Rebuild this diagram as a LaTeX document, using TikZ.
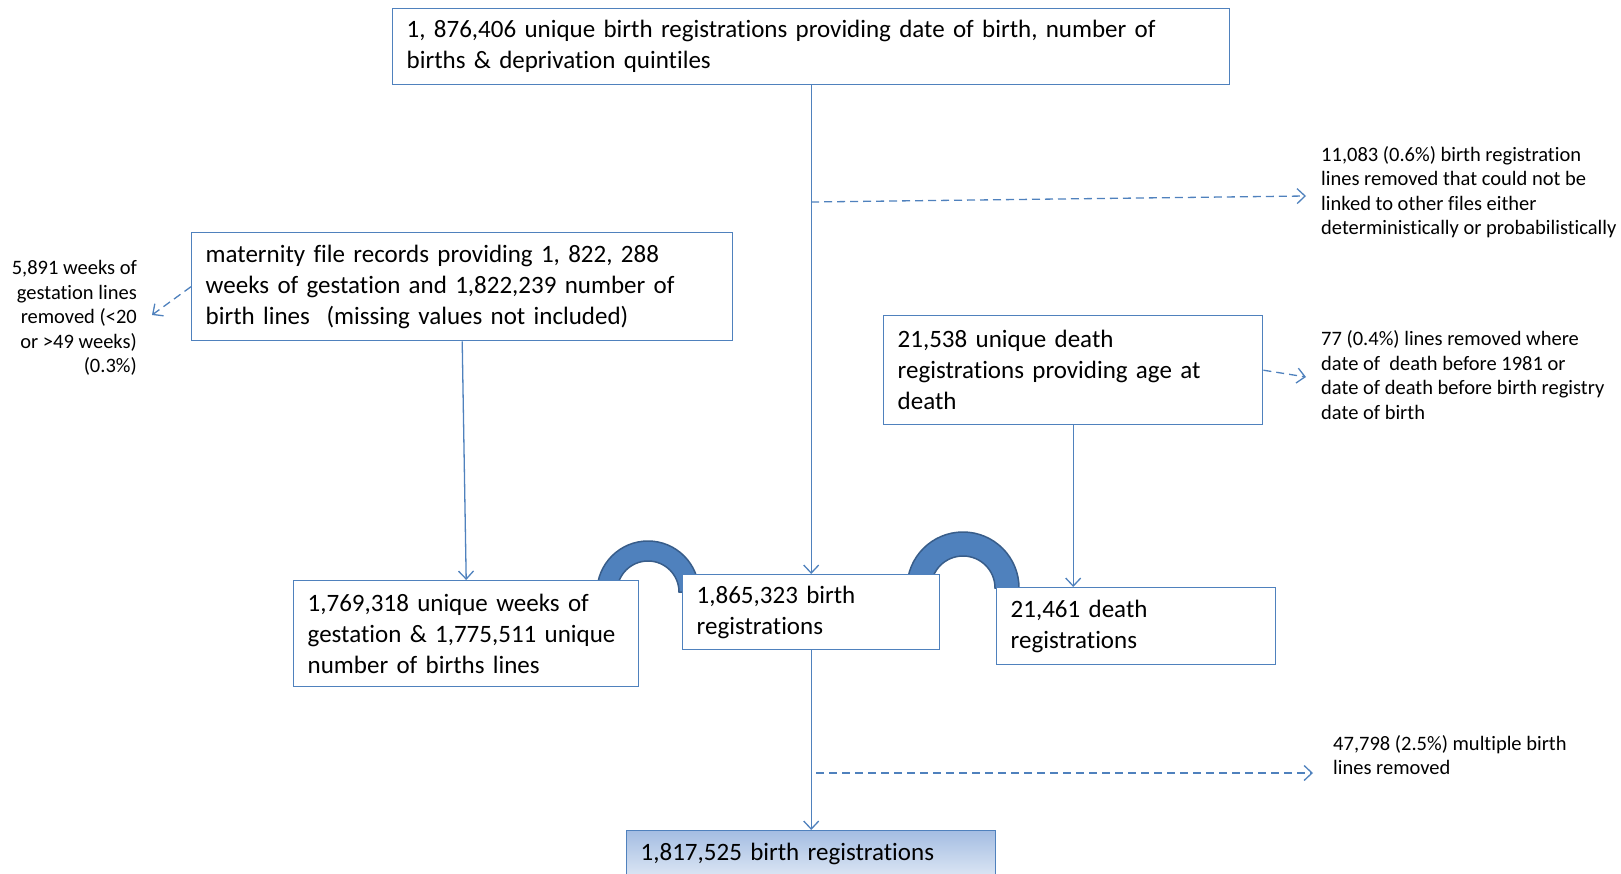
\documentclass[tikz,border=0pt]{standalone}
\usepackage{fontspec}
\setmainfont{Carlito}[Ligatures=CommonOff]
\usetikzlibrary{arrows.meta}
\definecolor{obl}{HTML}{4F81BD}
\definecolor{odk}{HTML}{385D8A}
\definecolor{gtop}{HTML}{A4BDE2}
\definecolor{gbot}{HTML}{DCE6F4}
\begin{document}
\begin{tikzpicture}[x=1pt,y=-1pt,
  box/.style={draw=obl, line width=1.4pt, fill=white, anchor=north west,
    inner xsep=14pt, inner ysep=0pt, align=left,
    font=\fontsize{25}{31}\selectfont},
  lab/.style={inner sep=0pt, font=\fontsize{20.5}{24.5}\selectfont},
  arr/.style={draw=obl, line width=1.3pt, -{Straight Barb[length=8pt,width=15pt]}},
  darr/.style={arr, dash pattern=on 8pt off 5pt},
  blockarc/.style={fill=obl, draw=odk, line width=1.5pt}
]
\useasboundingbox (0,0) rectangle (1621,874);

% block arcs (behind boxes)
\path[blockarc] (648,592) ++(-51,0) arc[start angle=180, end angle=360, radius=51]
  -- ++(-20,0) arc[start angle=360, end angle=180, radius=31] -- cycle;
\path[blockarc] (963,588) ++(-56,0) arc[start angle=180, end angle=360, radius=56]
  -- ++(-24,0) arc[start angle=360, end angle=180, radius=32] -- cycle;

% boxes
\node[box, minimum width=837pt, text width=809pt, minimum height=76pt] (top) at (392,8)
  {1, 876,406 unique birth registrations providing date of birth, number of\\births \& deprivation quintiles};
\node[box, minimum width=541pt, text width=513pt, minimum height=108pt] (mat) at (191,232)
  {maternity file records providing 1, 822, 288\\weeks of gestation and 1,822,239 number of\\birth lines~ (missing values not included)};
\node[box, minimum width=379pt, text width=351pt, minimum height=109pt] (dbox) at (883,315)
  {21,538 unique death\\registrations providing age at\\death};
\node[box, minimum width=345pt, text width=317pt, minimum height=106pt] (gest) at (293,580)
  {1,769,318 unique weeks of\\gestation \& 1,775,511 unique\\number of births lines};
\node[box, minimum width=257pt, text width=229pt, minimum height=75pt] (breg) at (682,574)
  {1,865,323 birth\\registrations};
\node[box, minimum width=279pt, text width=251pt, minimum height=77pt] (dreg) at (996,587)
  {21,461 death\\registrations};
\node[box, top color=gtop, bottom color=gbot, minimum width=369pt, text width=341pt, minimum height=46pt] (final) at (626,830)
  {1,817,525 birth registrations};

% side labels
\node[lab, anchor=east, align=right] (lab0) at (137,318)
  {5,891 weeks of\\gestation lines\\removed (<20\\or >49 weeks)\\(0.3\%)};
\node[lab, anchor=west, align=left] (lab1) at (1321,192)
  {11,083 (0.6\%) birth registration\\lines removed that could not be\\linked to other files either\\deterministically or probabilistically};
\node[lab, anchor=west, align=left] (lab2) at (1321,375)
  {77 (0.4\%) lines removed where\\date of~ death before 1981 or\\date of death before birth registry\\date of birth};
\node[lab, anchor=west, align=left] (lab3) at (1333,755)
  {47,798 (2.5\%) multiple birth\\lines removed};

% main connectors
\draw[arr] (top.south) -- (breg.north);
\draw[arr] (mat.south) -- (gest.north);
\draw[arr] (dbox.south) -- (dbox.south |- dreg.north);
\draw[arr] (breg.south) -- (final.north);

% dashed exclusions
\coordinate (b1) at (811,202);
\coordinate (b3) at (816,773);
\draw[darr] (b1) -- ([xshift=-15pt,yshift=-4pt]lab1.west);
\draw[darr] (mat.west) -- ([xshift=15pt,yshift=3pt]lab0.east);
\draw[darr] (dbox.east) -- ([xshift=-15pt,yshift=-2pt]lab2.west);
\draw[darr, shorten >=20pt] (b3) -- (b3 -| lab3.west);
\end{tikzpicture}
\end{document}
